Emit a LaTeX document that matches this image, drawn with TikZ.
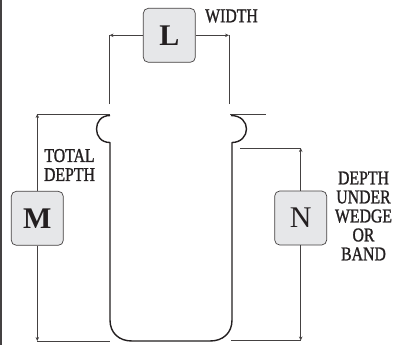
\documentclass[tikz,border=0pt]{standalone}
\usepackage{fontspec}
\setmainfont{Liberation Serif}
\newfontfamily\capfont[FakeStretch=0.81,FakeBold=1.2]{Liberation Serif}
\usetikzlibrary{arrows.meta}
\definecolor{boxgray}{HTML}{E6E7E9}
\definecolor{ink}{HTML}{231F20}
\tikzset{
  px/.style={x=1pt,y=-1pt},
  letterbox/.style={draw=ink!85,line width=0.7pt,fill=boxgray,rounded corners=5pt,minimum width=52pt,minimum height=54pt,inner sep=0pt,font=\fontsize{30}{30}\selectfont,text=ink},
  caption/.style={font=\capfont\fontsize{19.5}{19}\selectfont,text=ink,align=center,inner sep=0pt},
  dim/.style={draw=ink!85,line width=0.7pt},
  tipped/.style={dim,-{Stealth[length=4pt,width=3.5pt]}},
  vessel/.style={draw=ink,line width=1.4pt,line join=round}
}
\begin{document}
\begin{tikzpicture}[px]
\useasboundingbox (0,0) rectangle (409,345);
\fill[white] (0,0) rectangle (409,345);
\draw[ink!85,line width=1.5pt] (1,0) -- (1,345);
% corner coordinates of the dimension lines
\coordinate (wl) at (109.5,104);
\coordinate (wr) at (229,104);
\coordinate (wlt) at (109.5,35.3);
\coordinate (wrt) at (229,35.3);
\coordinate (mt) at (37.3,114);
\coordinate (mb) at (37.3,341);
\coordinate (mte) at (109.5,114);
\coordinate (mbe) at (110,341);
\coordinate (nt) at (300.7,148);
\coordinate (nb) at (300.7,340.5);
\coordinate (nte) at (240,148);
\coordinate (nbe) at (231,340.5);
\coordinate (rte) at (230,114);
\coordinate (rtf) at (266,114);
% boxes
\node[letterbox] (L) at (169.3,35.3) {\textbf{L}};
\node[letterbox] (M) at (37.3,218.3) {\textbf{M}};
\node[letterbox] (N) at (300.7,218) {N};
% dimension lines
\draw[dim] (wl) -- (wlt);
\draw[dim] (wr) -- (wrt);
\draw[tipped] (L) -- (wlt);
\draw[tipped] (L) -- (wrt);
\draw[tipped] (M) -- (mt);
\draw[tipped] (M) -- (mb);
\draw[dim] (mt) -- (mte);
\draw[dim] (mb) -- (mbe);
\draw[tipped] (N) -- (nt);
\draw[tipped] (N) -- (nb);
\draw[dim] (nt) -- (nte);
\draw[dim] (nb) -- (nbe);
\draw[dim] (rte) -- (rtf);
% vessel
\draw[vessel] (110,115.5) .. controls (101,115.5) and (96.5,122) .. (96.5,129)
  .. controls (96.5,136) and (101,142.5) .. (110,142.5)
  -- (110,320) .. controls (110,333) and (119,341) .. (132,341)
  -- (210,341) .. controls (223,341) and (232,333) .. (232,320)
  -- (232,142.5) .. controls (241,142.5) and (246.5,136) .. (246.5,129)
  .. controls (246.5,122) and (241,115.5) .. (231,115.5);
% captions
\node[caption,anchor=west] (width) at (205,16) {WIDTH};
\node[caption] (total) at (69.5,165) {TOTAL\\DEPTH};
\node[caption] (under) at (363.5,216) {DEPTH\\UNDER\\WEDGE\\OR\\BAND};
\end{tikzpicture}
\end{document}
